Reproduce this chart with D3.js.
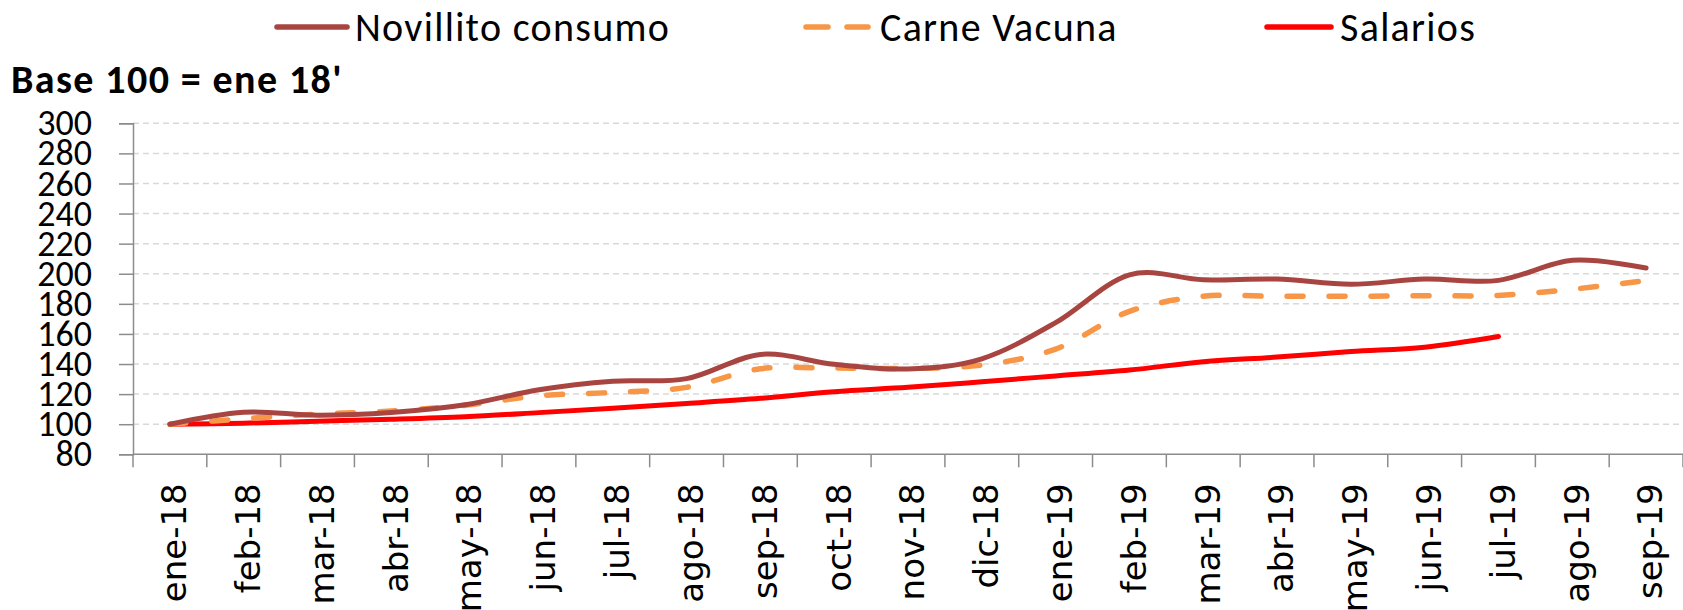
<!DOCTYPE html>
<html><head><meta charset="utf-8">
<script src="https://cdn.jsdelivr.net/npm/d3@7"></script>
<style>body{margin:0;background:#fff;} svg{display:block}</style>
</head><body>
<script>
const categories = ["ene-18","feb-18","mar-18","abr-18","may-18","jun-18","jul-18","ago-18","sep-18","oct-18","nov-18","dic-18","ene-19","feb-19","mar-19","abr-19","may-19","jun-19","jul-19","ago-19","sep-19"];
const novillito = [100, 108, 106, 107.8, 112.9, 122.9, 128.6, 130.3, 146.4, 139.8, 136.7, 143.5, 167.5, 199.3, 196, 196.5, 193, 196.5, 195.6, 208.9, 203.8];
const carne = [100, 103.6, 106.7, 108.7, 112.6, 118.9, 121.1, 124.5, 136.8, 137.3, 137.1, 139.3, 149.9, 175, 185, 185, 185, 185.4, 185.6, 189.7, 195.5];
const salarios = [100, 100.7, 102, 103.3, 105, 107.7, 110.6, 113.8, 117.2, 121.6, 124.5, 128.2, 132.1, 136, 141.5, 144.6, 148.3, 151.2, 158.3];
const yTicks = [80,100,120,140,160,180,200,220,240,260,280,300];
const seriesNames = ["Novillito consumo","Carne Vacuna","Salarios"];
const title = "Base 100 = ene 18'";

const W = 1683, H = 610;
const svg = d3.select("body").append("svg").attr("width", W).attr("height", H);

const x = d3.scaleBand().domain(categories).range([133, 1683]).padding(0);
const y = d3.scaleLinear().domain([80, 300]).range([454.3, 123.3]);

// gridlines
svg.append("g").selectAll("line").data(yTicks.filter(t => t > 80)).join("line")
  .attr("x1", 133).attr("x2", 1683)
  .attr("y1", d => y(d)).attr("y2", d => y(d))
  .attr("stroke", "#d9d9d9").attr("stroke-width", 1.5).attr("stroke-dasharray", "6,4");

// y axis
const yAxis = svg.append("g").attr("transform", "translate(133,0)")
  .call(d3.axisLeft(y).tickValues(yTicks).tickSize(14).tickPadding(27).tickFormat(d3.format("d")));
yAxis.select(".domain").attr("stroke", "#8c8c8c").attr("stroke-width", 1.5);
yAxis.selectAll(".tick line").attr("stroke", "#8c8c8c").attr("stroke-width", 1.5);
yAxis.selectAll("text").attr("font-family", "Carlito, Lato, sans-serif").attr("font-size", 36).attr("fill", "#000");

// x axis line
const y0 = y(80);
svg.append("line").attr("x1", 133).attr("x2", 1683).attr("y1", y0).attr("y2", y0)
  .attr("stroke", "#8c8c8c").attr("stroke-width", 1.5);
const bounds = categories.map(c => x(c)).concat([x(categories[categories.length-1]) + x.bandwidth()]);
svg.append("g").selectAll("line").data(bounds).join("line")
  .attr("x1", d => d).attr("x2", d => d).attr("y1", y0).attr("y2", y0 + 13)
  .attr("stroke", "#8c8c8c").attr("stroke-width", 1.5);
svg.append("g").selectAll("text").data(categories).join("text")
  .attr("transform", d => `translate(${x(d) + x.bandwidth()/2},${y0 + 29}) rotate(-90)`)
  .attr("text-anchor", "end").attr("dy", "0.48em")
  .attr("font-family", "DejaVu Sans, sans-serif").attr("font-size", 34).attr("fill", "#000")
  .text(d => d);

// lines
const cx = c => x(c) + x.bandwidth()/2;
const line = d3.line().x(d => cx(d.c)).y(d => y(d.v)).curve(d3.curveCardinal.tension(0));
const mk = arr => arr.map((v, i) => ({c: categories[i], v}));

svg.append("path").datum(mk(salarios)).attr("d", line)
  .attr("fill", "none").attr("stroke", "#FF0000").attr("stroke-width", 5).attr("stroke-linecap", "round");
svg.append("path").datum(mk(carne)).attr("d", line)
  .attr("fill", "none").attr("stroke", "#F79646").attr("stroke-width", 5.5)
  .attr("stroke-linecap", "round").attr("stroke-dasharray", "16,26");
svg.append("path").datum(mk(novillito)).attr("d", line)
  .attr("fill", "none").attr("stroke", "#A84540").attr("stroke-width", 5).attr("stroke-linecap", "round");

// title
svg.append("text").attr("x", 11).attr("y", 93).attr("font-family", "Carlito, Lato, sans-serif")
  .attr("font-weight", "bold").attr("font-size", 40).attr("letter-spacing", 1.4).attr("fill", "#000").text(title);

// legend
const legend = [
  {name: seriesNames[0], color: "#A84540", dash: null, x1: 277, x2: 347, tx: 355},
  {name: seriesNames[1], color: "#F79646", dash: "22,19", x1: 806, x2: 868, tx: 880},
  {name: seriesNames[2], color: "#FF0000", dash: null, x1: 1267, x2: 1331, tx: 1340}
];
const lg = svg.append("g").selectAll("g").data(legend).join("g");
lg.append("line").attr("x1", d => d.x1).attr("x2", d => d.x2).attr("y1", 27).attr("y2", 27)
  .attr("stroke", d => d.color).attr("stroke-width", 5.5).attr("stroke-linecap", "round")
  .attr("stroke-dasharray", d => d.dash);
lg.append("text").attr("x", d => d.tx).attr("y", 41)
  .attr("font-family", "Carlito, Lato, sans-serif").attr("font-size", 40).attr("letter-spacing", 1.3).attr("fill", "#000")
  .text(d => d.name);
</script>
</body></html>
